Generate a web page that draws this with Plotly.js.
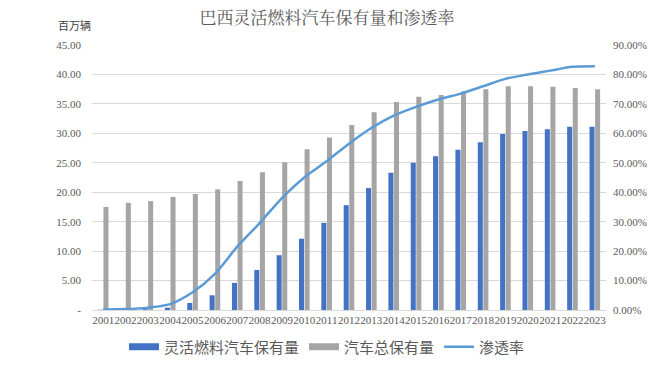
<!DOCTYPE html>
<html>
<head>
<meta charset="utf-8">
<script src="https://cdn.plot.ly/plotly-3.0.1.min.js"></script>
<style>html,body{margin:0;padding:0;background:#fff;}#chart{width:654px;height:366px;}</style>
</head>
<body>
<div id="chart"></div>
<script>
const years = ['2001','2002','2003','2004','2005','2006','2007','2008','2009','2010','2011','2012','2013','2014','2015','2016','2017','2018','2019','2020','2021','2022','2023'];
const flexFleet = [0.05,0.06,0.15,0.4,1.2,2.5,4.6,6.8,9.3,12.1,14.8,17.8,20.7,23.3,25.0,26.1,27.2,28.5,29.9,30.4,30.7,31.1,31.1];
const totalFleet = [17.5,18.2,18.5,19.2,19.7,20.5,21.9,23.4,25.1,27.3,29.3,31.4,33.6,35.3,36.2,36.5,37.1,37.5,38.0,38.0,37.9,37.7,37.5];
const penetration = [0.2,0.3,0.8,2.0,6.0,12.3,21.5,29.5,38.0,45.0,50.5,56.5,61.8,66.0,69.0,71.5,73.5,76.0,78.5,80.0,81.3,82.6,82.8];
const leftTicks = [0,5,10,15,20,25,30,35,40,45];
const leftTickText = ['-','5.00','10.00','15.00','20.00','25.00','30.00','35.00','40.00','45.00'];
const rightTicks = [0,10,20,30,40,50,60,70,80,90];
const rightTickText = ['0.00%','10.00%','20.00%','30.00%','40.00%','50.00%','60.00%','70.00%','80.00%','90.00%'];
const seriesNames = ['灵活燃料汽车保有量','汽车总保有量','渗透率'];

const serif = 'Liberation Serif, DejaVu Serif, serif';
const cjk = 'Noto Sans CJK SC, sans-serif';

const traces = [
  {type:'bar', name:seriesNames[0], x:years, y:flexFleet, marker:{color:'#4472C4'}, yaxis:'y', showlegend:false},
  {type:'bar', name:seriesNames[1], x:years, y:totalFleet, marker:{color:'#A5A5A5'}, yaxis:'y', showlegend:false},
  {type:'scatter', mode:'lines', name:seriesNames[2], x:years, y:penetration, yaxis:'y2', showlegend:false,
   line:{color:'#5B9BD5', width:2.5, shape:'spline', smoothing:0.8}},
  // legend-only entries (Excel-style wide swatches)
  {type:'scatter', mode:'lines', name:seriesNames[0], x:[null], y:[null], line:{color:'#4472C4', width:7}, legendrank:1},
  {type:'scatter', mode:'lines', name:seriesNames[1], x:[null], y:[null], line:{color:'#A5A5A5', width:7}, legendrank:2},
  {type:'scatter', mode:'lines', name:seriesNames[2], x:[null], y:[null], line:{color:'#5B9BD5', width:2.5}, legendrank:3}
];

const layout = {
  width:654, height:366,
  paper_bgcolor:'#fff', plot_bgcolor:'#fff',
  margin:{l:92, r:48, t:45, b:56},
  barmode:'group', bargap:0.5, bargroupgap:0.1,
  showlegend:true,
  legend:{orientation:'h', x:0.5, xanchor:'center', xref:'container', y:0.052, yref:'container', yanchor:'middle',
          font:{family:cjk, size:15, color:'#595959'}, traceorder:'normal', itemwidth:30},
  title:{text:'巴西灵活燃料汽车保有量和渗透率', x:0.5, xanchor:'center', xref:'container', y:0.95, yref:'container', yanchor:'middle',
         font:{family:'Noto Serif CJK SC, '+cjk, size:17, color:'#595959'}},
  xaxis:{type:'category', tickmode:'array', tickvals:years, ticktext:years, tickangle:0,
         tickfont:{family:serif, size:11, color:'#595959'}, showgrid:false,
         showline:true, linecolor:'#D9D9D9', linewidth:1, ticks:'', fixedrange:true},
  yaxis:{range:[0,45], tickmode:'array', tickvals:leftTicks, ticktext:leftTickText,
         tickfont:{family:serif, size:11, color:'#595959'}, showgrid:true, gridcolor:'#D9D9D9', gridwidth:1,
         zeroline:false, showline:false, ticks:'', ticklabelstandoff:10},
  yaxis2:{range:[0,90], overlaying:'y', side:'right', tickmode:'array', tickvals:rightTicks, ticktext:rightTickText,
          tickfont:{family:serif, size:11, color:'#595959'}, showgrid:false, zeroline:false, showline:false, ticks:'', ticklabelstandoff:6},
  annotations:[{text:'百万辆', xref:'paper', yref:'paper', x:-0.035, y:1.075, xanchor:'center', yanchor:'middle', showarrow:false,
                font:{family:cjk, size:11, color:'#404040'}}]
};

Plotly.newPlot('chart', traces, layout, {displayModeBar:false, staticPlot:true});
</script>
</body>
</html>
